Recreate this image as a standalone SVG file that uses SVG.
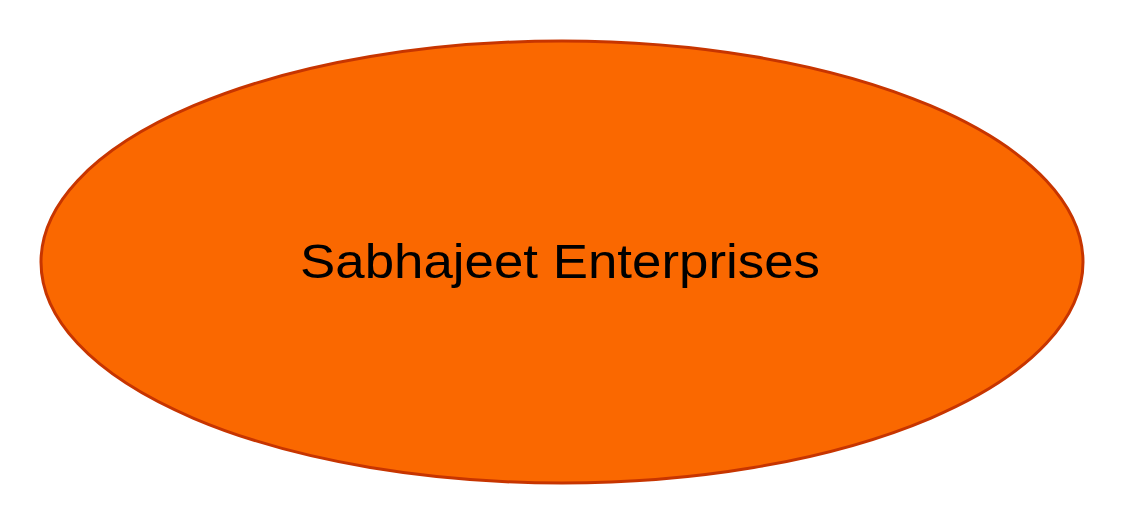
<svg xmlns="http://www.w3.org/2000/svg" width="1124" height="528" viewBox="0 0 1124 528">
<style>
.node{fill:#FA6800;stroke:#C73500;stroke-width:3}
.label{font-family:"Liberation Sans",Arial,sans-serif;font-size:48px;fill:#000;text-anchor:middle}
</style>
<rect width="1124" height="528" fill="#fff"/>
<g id="connectors"></g>
<g id="node-sabhajeet">
<ellipse class="node" cx="562" cy="262" rx="521" ry="221"/>
<text class="label" x="560" y="278" textLength="520" lengthAdjust="spacingAndGlyphs">Sabhajeet Enterprises</text>
</g>
</svg>
